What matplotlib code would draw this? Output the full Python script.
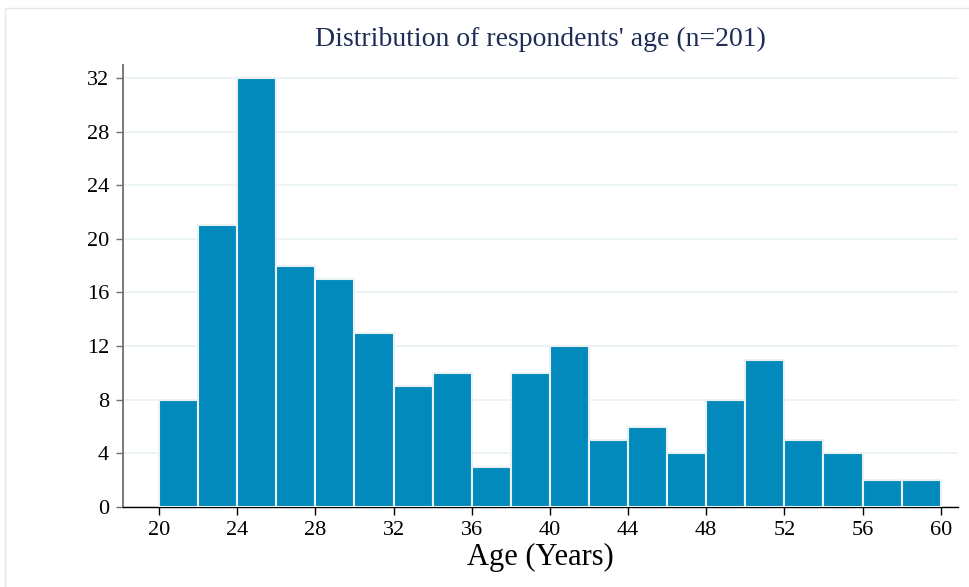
import matplotlib.pyplot as plt
from matplotlib.patches import Rectangle

# histogram of respondents' age, bins of 2 years
bin_left = [20, 22, 24, 26, 28, 30, 32, 34, 36, 38,
            40, 42, 44, 46, 48, 50, 52, 54, 56, 58]
counts = [8, 21, 32, 18, 17, 13, 9, 10, 3, 10,
          12, 5, 6, 4, 8, 11, 5, 4, 2, 2]
bin_width = 2
xticks = list(range(20, 61, 4))
yticks = list(range(0, 33, 4))

plt.rcParams['font.family'] = ['Liberation Serif', 'DejaVu Serif']

fig = plt.figure(figsize=(9.69, 5.87), dpi=100)
ax = fig.add_axes([0.127, 0.1363, 0.862, 0.753])

# thin outer frame like the graph region border
fig.patches.append(Rectangle((5 / 969, -0.1), 1.2, 1 - 8 / 587 + 0.1,
                             transform=fig.transFigure, fill=False,
                             edgecolor='#e4e8ea', linewidth=1.0))

ax.bar(bin_left, counts, width=bin_width, align='edge',
       color='#038abc', edgecolor='#e9f1f3', linewidth=1.5, zorder=3)

ax.set_xlim(18.16, 60.9)
ax.set_ylim(0, 32.97)
ax.set_xticks(xticks)
ax.set_yticks(yticks)
ax.grid(axis='y', color='#e9f1f3', linewidth=1.2, zorder=0)

for s in ['top', 'right']:
    ax.spines[s].set_visible(False)
ax.spines['left'].set_color('#6e6e6e')
ax.spines['left'].set_linewidth(1.3)
ax.spines['bottom'].set_color('black')
ax.spines['bottom'].set_linewidth(1.0)

ax.tick_params(axis='y', length=5, width=1, color='#6e6e6e', labelsize=16, pad=5)
ax.tick_params(axis='x', length=6, width=1, color='black', labelsize=16, pad=4)

ax.set_xlabel('Age (Years)', fontsize=22, labelpad=2)
ax.set_title("Distribution of respondents' age (n=201)", fontsize=20,
             color='#1e2d55', pad=14)

fig.savefig('out.png', dpi=100)
